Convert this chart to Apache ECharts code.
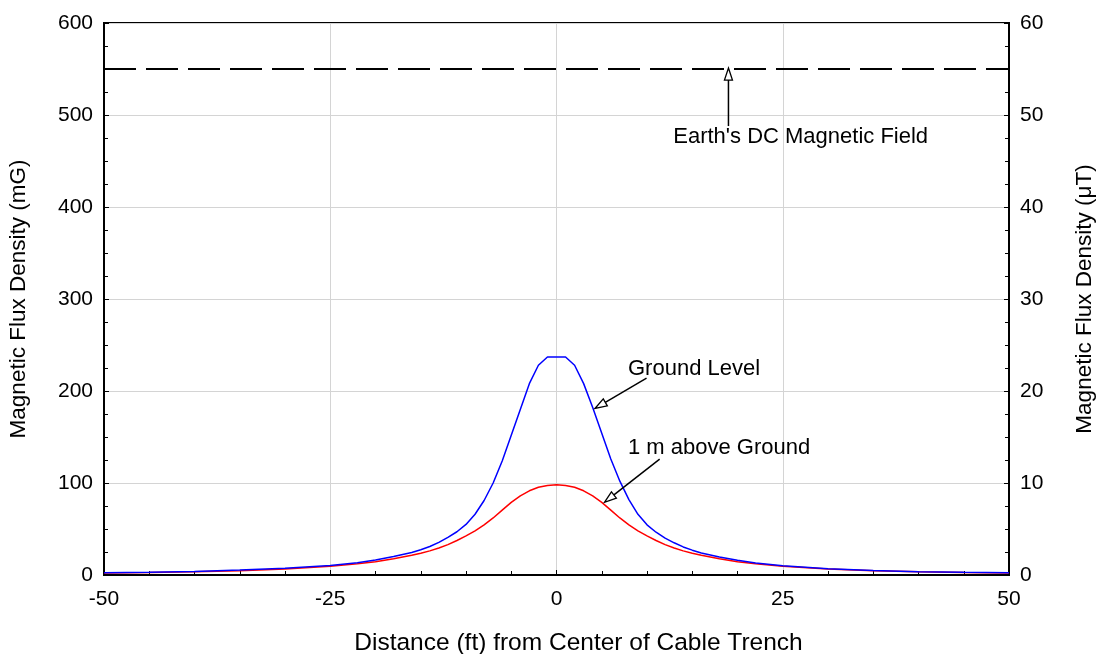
<!DOCTYPE html>
<html><head><meta charset="utf-8">
<script src="https://cdn.jsdelivr.net/npm/echarts@6/dist/echarts.min.js"></script>
<style>html,body{margin:0;padding:0;background:#fff}#c{width:1097px;height:654px}</style>
</head><body><div id="c"></div>
<script>
// Distance (ft)
const groundX = [-50,-45,-40,-35,-30,-25,-22,-20,-18,-16,-15,-14,-13,-12,-11,-10,-9,-8,-7,-6,-5,-4,-3,-2,-1,0,1,2,3,4,5,6,7,8,9,10,11,12,13,14,15,16,18,20,22,25,30,35,40,45,50];
// Ground Level (mG)
const groundLevel = [2.5,3,3.8,5.3,7.3,10.3,13.3,16.3,20,24.5,27.5,31,35.5,41,47,55,66,81,100,124,152,180,208,228,237,237,237,228,208,182,154,126,102,82,66,54.5,46.5,40,35,30.5,27,24,19.5,16,13,10,6.8,4.8,3.6,3,2.5];
const aboveX = [-50,-45,-40,-35,-30,-25,-22,-20,-18,-16,-15,-14,-13,-12,-11,-10,-9,-8,-7,-6,-5,-4,-3,-2,-1,0,1,2,3,4,5,6,7,8,9,10,11,12,13,14,15,16,18,20,22,25,30,35,40,45,50];
// 1 m above Ground (mG)
const aboveGround = [2.3,2.8,3.5,4.5,6.5,9.5,12.2,14.5,17.6,21.4,23.6,26.2,29.3,33,37.5,42.5,48,54.5,62,70.5,79,86,91.5,95.3,97.3,98,97.3,95.3,91.5,86,79,70.5,62,54.5,48,42.5,37.5,33,29.3,26.2,23.6,21.4,17.6,14.5,12.2,9.5,6.5,4.5,3.5,2.8,2.3];
// Earth's DC magnetic field (mG)
const earthX = [-50, 50];
const earthField = [550, 550];
// Annotations: arrows [x0,y0,x1(tip),y1(tip)]
const arrows = [[19,488,19,551],[9.95,214,4.25,181],[11.4,126,5.3,79]];
const labelTexts = ["Earth's DC Magnetic Field","Ground Level","1 m above Ground"];
const labelPos = [[12.9,476],[7.9,224],[7.9,138]];
const xTicks = [-50,-25,0,25,50];
const yLeftTicks = [0,100,200,300,400,500,600];
const yRightTicks = [0,10,20,30,40,50,60];

const FONT = 'Liberation Sans, Arial, sans-serif';
const FS = 21;
const zip = (xs, ys) => xs.map((x,i)=>[x, ys[i]]);

const chart = echarts.init(document.getElementById('c'));
const axisCommon = {
  axisLine:{show:true,onZero:false,lineStyle:{color:'#000',width:2}},
  axisTick:{show:true,inside:true,length:5,lineStyle:{color:'#000',width:1}},
  axisLabel:{color:'#000',fontFamily:FONT,fontSize:FS},
  nameTextStyle:{color:'#000',fontFamily:FONT,fontSize:22.5}
};
chart.setOption({
  animation:false,
  backgroundColor:'#fff',
  grid:{left:104,right:88,top:23,bottom:79,show:true,borderColor:'#000',borderWidth:2,
        containLabel:false,outerBoundsMode:'none'},
  xAxis:[Object.assign({}, axisCommon, {
    type:'value',min:xTicks[0],max:xTicks[xTicks.length-1],interval:25,
    minorTick:{show:true,splitNumber:5,length:4,lineStyle:{color:'#000'}},
    axisLabel:Object.assign({},axisCommon.axisLabel,{margin:14}),
    splitLine:{show:true,lineStyle:{color:'#d4d4d4',width:1}},
    name:'Distance (ft) from Center of Cable Trench',nameLocation:'middle',nameGap:56,
    nameTextStyle:{color:'#000',fontFamily:FONT,fontSize:24.5,padding:[0,0,0,44]}
  })],
  yAxis:[Object.assign({}, axisCommon, {
    type:'value',min:yLeftTicks[0],max:yLeftTicks[yLeftTicks.length-1],interval:100,position:'left',
    minorTick:{show:true,splitNumber:4,length:4,lineStyle:{color:'#000'}},
    axisLabel:Object.assign({},axisCommon.axisLabel,{margin:11}),
    splitLine:{show:true,lineStyle:{color:'#d4d4d4',width:1}},
    name:'Magnetic Flux Density (mG)',nameLocation:'middle',nameGap:74,nameRotate:90
  }),Object.assign({}, axisCommon, {
    type:'value',min:yRightTicks[0],max:yRightTicks[yRightTicks.length-1],interval:10,position:'right',
    minorTick:{show:true,splitNumber:4,length:4,lineStyle:{color:'#000'}},
    axisLabel:Object.assign({},axisCommon.axisLabel,{margin:11}),
    splitLine:{show:false},
    name:'Magnetic Flux Density (\u03BCT)',nameLocation:'middle',nameGap:64,nameRotate:90
  })],
  series:[
    {type:'line',name:'Earth',data:zip(earthX,earthField),symbol:'none',
     lineStyle:{color:'#000',width:2,type:[32,10]}},
    {type:'line',name:'1 m above Ground',data:zip(aboveX,aboveGround),symbol:'none',smooth:false,
     lineStyle:{color:'#ff0000',width:1.5}},
    {type:'line',name:'Ground Level',data:zip(groundX,groundLevel),symbol:'none',smooth:false,
     lineStyle:{color:'#0000ff',width:1.5}},
    {type:'custom',name:'arrows',data:arrows,encode:{x:[0,2],y:[1,3]},z:5,
     renderItem:function(params, api){
       const p0 = api.coord([api.value(0), api.value(1)]);
       const p1 = api.coord([api.value(2), api.value(3)]);
       const dx=p1[0]-p0[0], dy=p1[1]-p0[1], len=Math.hypot(dx,dy);
       const ux=dx/len, uy=dy/len, L=12, W=4;
       const b=[p1[0]-ux*L,p1[1]-uy*L], nx=-uy, ny=ux;
       return {type:'group',children:[
         {type:'line',shape:{x1:p0[0],y1:p0[1],x2:b[0],y2:b[1]},style:{stroke:'#000',lineWidth:1.5}},
         {type:'polygon',shape:{points:[p1,[b[0]+nx*W,b[1]+ny*W],[b[0]-nx*W,b[1]-ny*W]]},
          style:{fill:'#fff',stroke:'#000',lineWidth:1.3}}
       ]};
     }},
    {type:'custom',name:'labels',data:labelPos.map((p,i)=>[p[0],p[1],i]),encode:{x:0,y:1},z:6,
     renderItem:function(params, api){
       const p = api.coord([api.value(0), api.value(1)]);
       return {type:'text',x:p[0],y:p[1],
         style:{text:labelTexts[api.value(2)],fill:'#000',font:'22px '+FONT,align:'left',verticalAlign:'middle'}};
     }}
  ]
});
</script></body></html>
